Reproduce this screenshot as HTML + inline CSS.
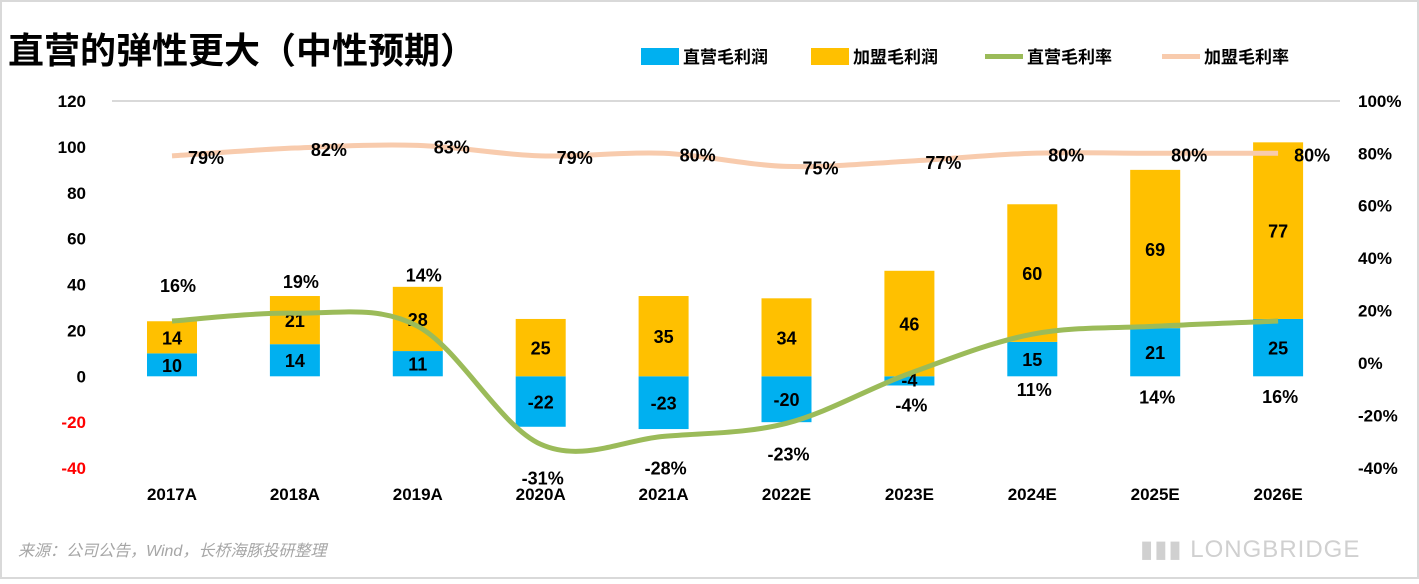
<!DOCTYPE html>
<html><head><meta charset="utf-8"><style>
html,body{margin:0;padding:0;background:#fff;}
body{width:1419px;height:579px;overflow:hidden;font-family:"Liberation Sans","Noto Sans CJK SC",sans-serif;}
</style></head><body>
<svg width="1419" height="579" xmlns="http://www.w3.org/2000/svg" font-family="Liberation Sans, Noto Sans CJK SC, sans-serif">
<rect x="1" y="1" width="1417" height="577" fill="#fff" stroke="#d9d9d9" stroke-width="2"/>
<text x="8" y="63" font-size="36" font-weight="bold" fill="#000">直营的弹性更大（中性预期）</text>
<g font-size="17" font-weight="bold" fill="#000">
<rect x="641" y="48" width="38" height="17" fill="#00b0f0"/><text x="683" y="63">直营毛利润</text>
<rect x="811" y="48" width="38" height="17" fill="#ffc000"/><text x="853" y="63">加盟毛利润</text>
<rect x="985" y="54" width="38" height="5" fill="#9bbb59"/><text x="1027" y="63">直营毛利率</text>
<rect x="1162" y="54" width="38" height="5" fill="#f8cbad"/><text x="1204" y="63">加盟毛利率</text>
</g>
<line x1="112" y1="101" x2="1340" y2="101" stroke="#d9d9d9" stroke-width="2"/>
<g id="axes"></g>
<g id="bars"></g>
<g id="lines"></g>
<text x="18" y="556" font-size="16" font-style="italic" fill="#a6a6a6">来源：公司公告，Wind，长桥海豚投研整理</text>
<text x="1140" y="557" font-size="24" fill="#d0d0d0" letter-spacing="1">▮▮▮ LONGBRIDGE</text>
</svg>
<script>
const categories=["2017A","2018A","2019A","2020A","2021A","2022E","2023E","2024E","2025E","2026E"];
const directProfit=[10,14,11,-22,-23,-20,-4,15,21,25];
const franchiseProfit=[14,21,28,25,35,34,46,60,69,77];
const directRate=[16,19,14,-31,-28,-23,-4,11,14,16];
const franchiseRate=[79,82,83,79,80,75,77,80,80,80];
const leftTicks=[120,100,80,60,40,20,0,-20,-40];
const rightTicks=[100,80,60,40,20,0,-20,-40];
const directLabelDy=[-29,-25,-45,40,38,37,38,62,77,82];

const NS="http://www.w3.org/2000/svg";
const yL=v=>376.3-(v)*(45.875/20);
const yR=v=>363-(v)*(52.43/20);
const xC=i=>172+i*122.9;
function mk(tag,attrs,parent,text){const e=document.createElementNS(NS,tag);for(const k in attrs)e.setAttribute(k,attrs[k]);if(text!==undefined)e.textContent=text;parent.appendChild(e);return e;}
const axes=document.getElementById('axes'),bars=document.getElementById('bars'),lines=document.getElementById('lines');
leftTicks.forEach(t=>{const e=mk('text',{x:86,y:yL(t)+6,'text-anchor':'end','font-size':17,'font-weight':'bold',fill:t<0?'#ff0000':'#000'},axes,String(t));

});
rightTicks.forEach(t=>{const e=mk('text',{x:1358,y:yR(t)+6,'font-size':17,'font-weight':'bold',fill:'#000'},axes,t+'%');

});
categories.forEach((c,i)=>{const e=mk('text',{x:xC(i),y:500,'text-anchor':'middle','font-size':17,'font-weight':'bold',fill:'#000'},axes,c);

});
const bw=50;
categories.forEach((c,i)=>{
 const d=directProfit[i],f=franchiseProfit[i];
 const y0=yL(0),yd=yL(d);
 const b=mk('rect',{x:xC(i)-bw/2,y:Math.min(y0,yd),width:bw,height:Math.abs(yd-y0),fill:'#00b0f0'},bars);
 
 
 const base=d>0?d:0;
 const yb=yL(base),yt=yL(base+f);
 const b2=mk('rect',{x:xC(i)-bw/2,y:yt,width:bw,height:yb-yt,fill:'#ffc000'},bars);
 
 
 const t1=mk('text',{x:xC(i),y:(d===-4?yL(0)+10:(y0+yd)/2+7),'text-anchor':'middle','font-size':18,'font-weight':'bold',fill:'#000'},bars,String(d));
 
 
 const t2=mk('text',{x:xC(i),y:(yb+yt)/2+7,'text-anchor':'middle','font-size':18,'font-weight':'bold',fill:'#000'},bars,String(f));
 
 
});
function smooth(pts){let d='M'+pts[0][0]+','+pts[0][1];for(let i=0;i<pts.length-1;i++){const p0=pts[i-1]||pts[i],p1=pts[i],p2=pts[i+1],p3=pts[i+2]||p2;
 const c1=[p1[0]+(p2[0]-p0[0])/6,p1[1]+(p2[1]-p0[1])/6],c2=[p2[0]-(p3[0]-p1[0])/6,p2[1]-(p3[1]-p1[1])/6];
 d+=' C'+c1+' '+c2+' '+p2;}return d;}
const fp=franchiseRate.map((v,i)=>[xC(i),yR(v)]);
const dp=directRate.map((v,i)=>[xC(i),yR(v)]);
const l1=mk('path',{d:smooth(fp),fill:'none',stroke:'#f8cbad','stroke-width':5},lines);


const l2=mk('path',{d:smooth(dp),fill:'none',stroke:'#9bbb59','stroke-width':5},lines);


franchiseRate.forEach((v,i)=>{const t=mk('text',{x:xC(i)+34,y:yR(v)+8,'text-anchor':'middle','font-size':18,'font-weight':'bold',fill:'#000'},lines,v+'%');

});
directRate.forEach((v,i)=>{const t=mk('text',{x:xC(i)+(i<3?6:2),y:yR(v)+directLabelDy[i],'text-anchor':'middle','font-size':18,'font-weight':'bold',fill:'#000'},lines,v+'%');

});
</script>
</body></html>
